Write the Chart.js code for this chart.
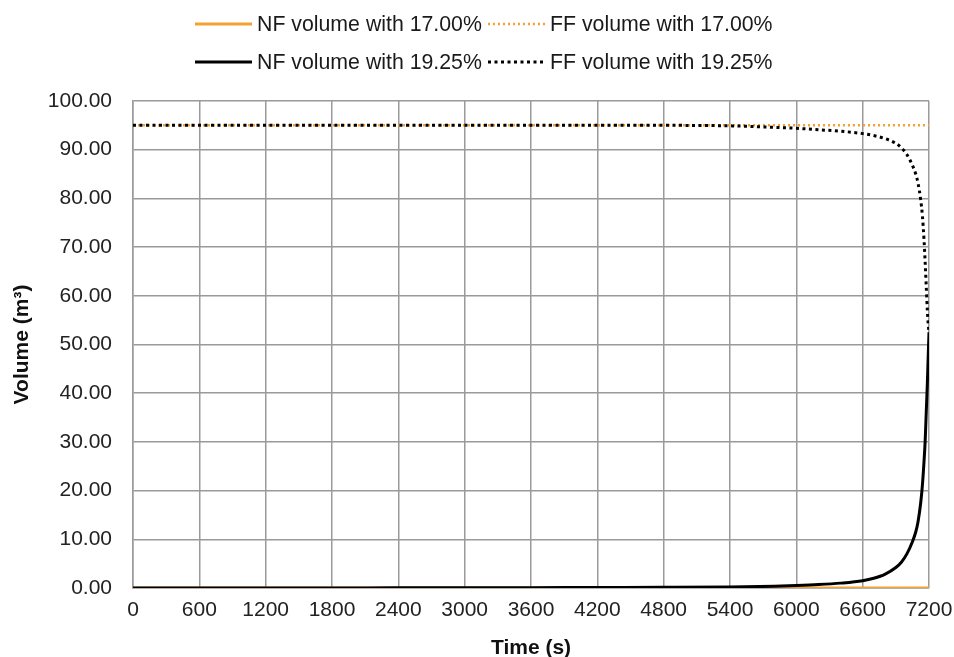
<!DOCTYPE html>
<html>
<head>
<meta charset="utf-8">
<script src="https://cdn.jsdelivr.net/npm/chart.js@4/dist/chart.umd.min.js"></script>
<style>
  html, body { margin: 0; padding: 0; background: #fff; }
  #wrap { width: 954px; height: 657px; position: relative; }
</style>
</head>
<body>
<div id="wrap"><canvas id="chart-volume"></canvas></div>
<script>
// time samples (s)
var times = [0, 600, 1200, 1800, 2400, 3000, 3600, 4200, 4800, 5400, 5800, 6000, 6200, 6400, 6600, 6700, 6800, 6900, 6950, 7000, 7050, 7080, 7100, 7125, 7140, 7155, 7165, 7175, 7185, 7192, 7200];

// 17.00% case: nothing drains into the near field
var nf1700 = [0, 0, 0, 0, 0, 0, 0, 0, 0, 0, 0, 0, 0, 0, 0, 0, 0, 0, 0, 0, 0, 0, 0, 0, 0, 0, 0, 0, 0, 0, 0];
var ff1700 = [95, 95, 95, 95, 95, 95, 95, 95, 95, 95, 95, 95, 95, 95, 95, 95, 95, 95, 95, 95, 95, 95, 95, 95, 95, 95, 95, 95, 95, 95, 95];

// 19.25% case
var nf1925 = [0, 0, 0, 0.02, 0.03, 0.05, 0.07, 0.1, 0.13, 0.2, 0.35, 0.5, 0.7, 1.0, 1.5, 2.0, 2.8, 4.2, 5.3, 7.0, 9.5, 11.5, 13.5, 17.5, 21, 26, 30, 36, 42, 47, 52.5];
var ff1925 = [95, 95, 95, 95, 95, 95, 95, 95, 95, 94.9, 94.6, 94.4, 94.1, 93.8, 93.3, 92.9, 92.3, 91.3, 90.4, 89.0, 86.8, 85.0, 83.2, 79.7, 76.5, 71.5, 67, 62, 57, 54.5, 52.5];

var seriesLabels = ['NF volume with 17.00%', 'FF volume with 17.00%', 'NF volume with 19.25%', 'FF volume with 19.25%'];

var ORANGE = '#f5a132';
var GRID = '#9a9a9a';
var FONT = "'Liberation Sans', Arial, sans-serif";

function pts(ys) {
  return times.map(function(t, i) { return { x: t, y: ys[i] }; });
}

// 2x2 legend drawn on the canvas above the plot
var gridLegend = {
  id: 'gridLegend',
  afterDraw: function(chart, args, opts) {
    var ctx = chart.ctx;
    var ds = chart.data.datasets;
    ctx.save();
    ctx.font = opts.fontSize + 'px ' + FONT;
    ctx.textBaseline = 'middle';
    ctx.fillStyle = '#1a1a1a';
    ds.forEach(function(d, i) {
      var col = i % 2, row = Math.floor(i / 2);
      var x = opts.cols[col], y = opts.rows[row];
      ctx.beginPath();
      ctx.strokeStyle = d.borderColor;
      ctx.lineWidth = d.borderWidth;
      ctx.setLineDash(d.borderDash || []);
      ctx.moveTo(x, y);
      ctx.lineTo(x + opts.sample, y);
      ctx.stroke();
      ctx.setLineDash([]);
      ctx.fillText(d.label, x + opts.sample + 5, y + 1);
    });
    ctx.restore();
  }
};

new Chart(document.getElementById('chart-volume'), {
  type: 'line',
  data: {
    datasets: [
      { label: seriesLabels[0], data: pts(nf1700), borderColor: ORANGE, borderWidth: 3, order: 2 },
      { label: seriesLabels[1], data: pts(ff1700), borderColor: ORANGE, borderWidth: 2.5, borderDash: [2, 3], order: 2 },
      { label: seriesLabels[2], data: pts(nf1925), borderColor: '#000', borderWidth: 3, order: 1 },
      { label: seriesLabels[3], data: pts(ff1925), borderColor: '#000', borderWidth: 3, borderDash: [3, 3.5], order: 1 }
    ]
  },
  options: {
    responsive: true,
    maintainAspectRatio: false,
    animation: false,
    layout: { padding: { top: 101, right: 0, bottom: 0, left: 0 } },
    elements: {
      point: { radius: 0 },
      line: { cubicInterpolationMode: 'monotone', fill: false }
    },
    plugins: {
      legend: { display: false },
      tooltip: { enabled: false },
      gridLegend: { cols: [195, 488], rows: [24, 62], sample: 57, fontSize: 21.3 }
    },
    scales: {
      x: {
        type: 'linear',
        min: 0, max: 7200,
        afterFit: function(s) { s.height = 69; s.paddingRight = 25; },
        grid: { color: GRID, lineWidth: 1.5, drawTicks: false },
        border: { color: GRID, width: 1.5 },
        ticks: {
          stepSize: 600, color: '#222', padding: 10, font: { family: FONT, size: 21 }, maxRotation: 0,
          callback: function(v) { return String(v); }
        },
        title: { display: true, text: 'Time (s)', color: '#111', padding: 0, font: { family: FONT, size: 21, weight: 'bold', lineHeight: 0.85 } }
      },
      y: {
        min: 0, max: 100,
        afterFit: function(s) { s.width = 133; },
        grid: { color: GRID, lineWidth: 1.5, drawTicks: false },
        border: { color: GRID, width: 1.5 },
        ticks: {
          stepSize: 10, color: '#222', padding: 21, font: { family: FONT, size: 21 },
          callback: function(v) { return v.toFixed(2); }
        },
        title: { display: true, text: 'Volume (m³)', color: '#111', padding: { top: 12, bottom: 0 }, font: { family: FONT, size: 21, weight: 'bold', lineHeight: 1 } }
      }
    }
  },
  plugins: [gridLegend]
});
</script>
</body>
</html>
